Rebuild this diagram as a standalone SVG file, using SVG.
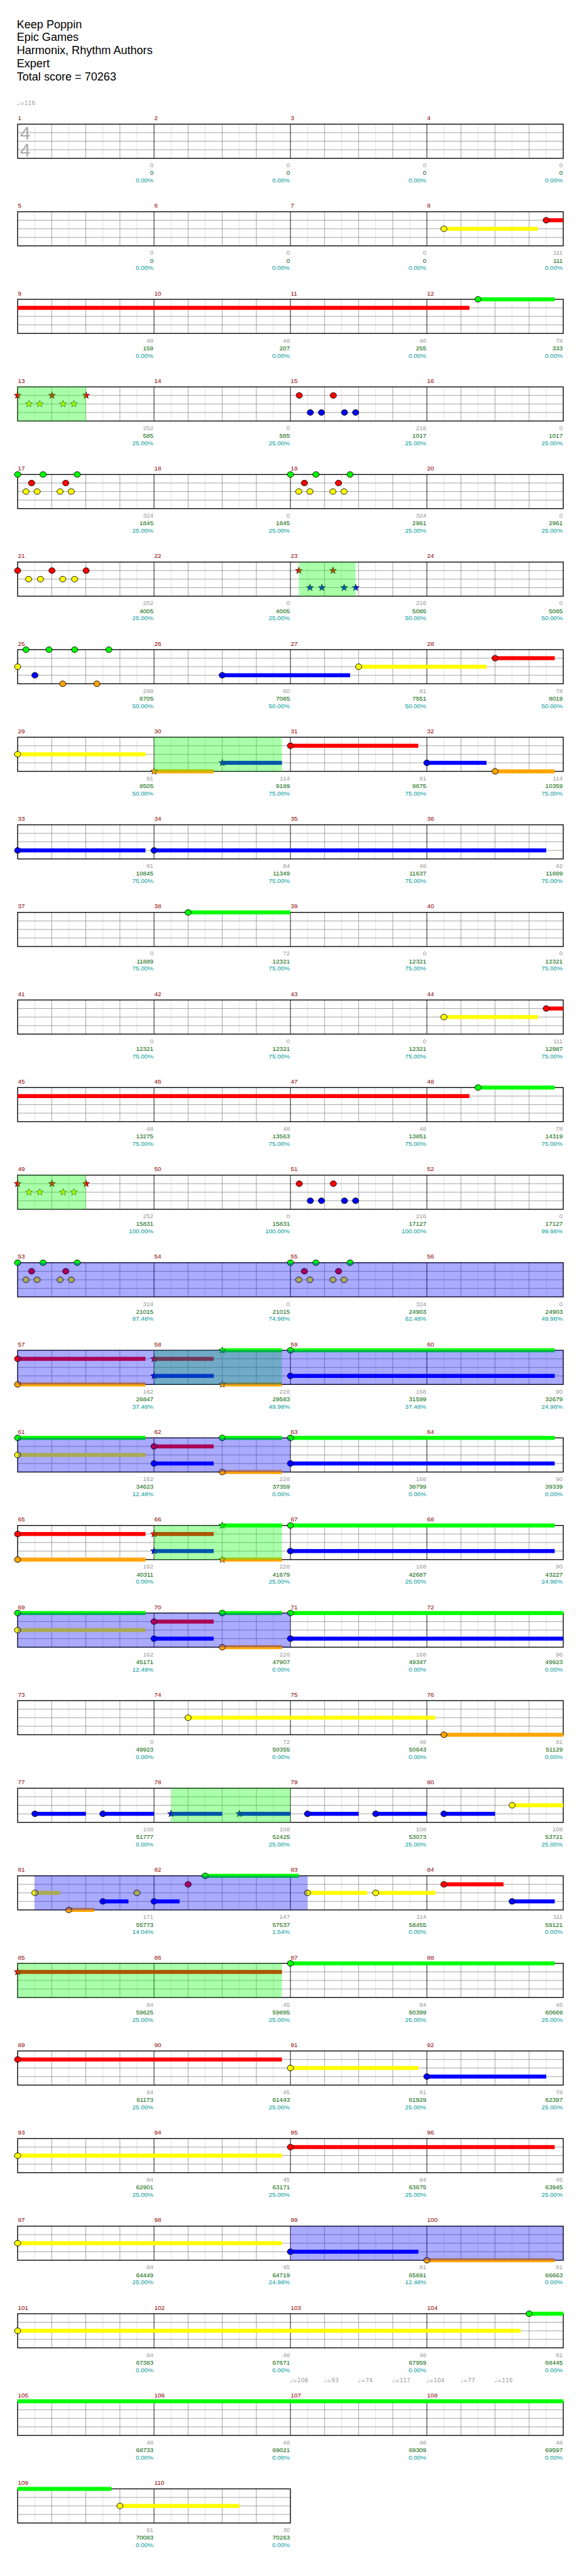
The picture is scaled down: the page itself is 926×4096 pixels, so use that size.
<svg xmlns="http://www.w3.org/2000/svg" width="926" height="4096" viewBox="0 0 926 4096">
<style>
.t{font-family:"Liberation Sans",Arial,sans-serif;font-size:20px;fill:#000}
.mn{font-family:"Liberation Sans",Arial,sans-serif;font-size:11px;fill:#8b0000}
.sc text{font-family:"Liberation Sans",Arial,sans-serif;font-size:11px;text-anchor:end}
.a{fill:#999}.b{fill:#006400}.c{fill:#009999}
.G{fill:#00ff00}.R{fill:#ff0000}.Y{fill:#ffff00}.B{fill:#0000ff}.O{fill:#ffa500}
.sp{fill:#00ff00;fill-opacity:.333}.ac{fill:#0000ff;fill-opacity:.333}
.tp{font-family:"DejaVu Sans",sans-serif;font-size:10px;fill:#999}
.ts{font-family:"Liberation Sans",Arial,sans-serif;font-size:33px;fill:#aaa}
</style>
<defs>
<ellipse id="n" rx="5.5" ry="5" stroke="#000" stroke-width="1"/>
<path id="s" d="M0,-6.5L1.6,-2.2L6.2,-2L2.6,0.8L3.8,5.3L0,2.7L-3.8,5.3L-2.6,0.8L-6.2,-2L-1.6,-2.2Z" stroke="#000" stroke-width="0.6"/>
<g id="g4">
<rect x="31" y="0" width="960" height="60" fill="#fff"/>
<path stroke="#ddd" d="M61 0V60M121 0V60M181 0V60M241 0V60M301 0V60M361 0V60M421 0V60M481 0V60M541 0V60M601 0V60M661 0V60M721 0V60M781 0V60M841 0V60M901 0V60M961 0V60"/>
<path stroke="#999" d="M91 0V60M151 0V60M211 0V60M331 0V60M391 0V60M451 0V60M571 0V60M631 0V60M691 0V60M811 0V60M871 0V60M931 0V60M31 15H991M31 30H991M31 45H991"/>
<path stroke="#000" d="M271 0V60M511 0V60M751 0V60"/>
<rect x="31" y="0" width="960" height="60" fill="none" stroke="#000" stroke-width="1.5"/>
</g>
<g id="g2">
<rect x="31" y="0" width="480" height="60" fill="#fff"/>
<path stroke="#ddd" d="M61 0V60M121 0V60M181 0V60M241 0V60M301 0V60M361 0V60M421 0V60M481 0V60"/>
<path stroke="#999" d="M91 0V60M151 0V60M211 0V60M331 0V60M391 0V60M451 0V60M31 15H511M31 30H511M31 45H511"/>
<path stroke="#000" d="M271 0V60"/>
<rect x="31" y="0" width="480" height="60" fill="none" stroke="#000" stroke-width="1.5"/>
</g>
</defs>
<rect width="926" height="4096" fill="#fff"/>
<g transform="scale(0.904297)">
<g id="title" class="t">
<text x="29.5" y="49.3">Keep Poppin</text>
<text x="29.5" y="72.3">Epic Games</text>
<text x="29.5" y="95.3">Harmonix, Rhythm Authors</text>
<text x="29.5" y="118.3">Expert</text>
<text x="29.5" y="141.3">Total score = 70263</text>
</g>

<g id="row-1" transform="translate(0,218.3)">
<use href="#g4"/>
<text class="ts" x="35" y="27">4</text><text class="ts" x="35" y="57.5">4</text>
<text class="tp" x="30" y="-33.6">♩=116</text>
<text class="mn" x="31.5" y="-7">1</text><text class="mn" x="271.5" y="-7">2</text><text class="mn" x="511.5" y="-7">3</text><text class="mn" x="751.5" y="-7">4</text>
<g class="sc"><text class="a" x="270" y="76">0</text><text class="a" x="510" y="76">0</text><text class="a" x="750" y="76">0</text><text class="a" x="990" y="76">0</text>
<text class="b" x="270" y="89.5">0</text><text class="b" x="510" y="89.5">0</text><text class="b" x="750" y="89.5">0</text><text class="b" x="990" y="89.5">0</text>
<text class="c" x="270" y="102.5">0.00%</text><text class="c" x="510" y="102.5">0.00%</text><text class="c" x="750" y="102.5">0.00%</text><text class="c" x="990" y="102.5">0.00%</text></g>
</g>

<g id="row-2" transform="translate(0,372.3)">
<use href="#g4"/>
<rect class="Y" x="781" y="26.5" width="165" height="7"/><use href="#n" x="781" y="30" class="Y"/>
<rect class="R" x="961" y="11.5" width="30" height="7"/><use href="#n" x="961" y="15" class="R"/>
<text class="mn" x="31.5" y="-7">5</text><text class="mn" x="271.5" y="-7">6</text><text class="mn" x="511.5" y="-7">7</text><text class="mn" x="751.5" y="-7">8</text>
<g class="sc"><text class="a" x="270" y="76">0</text><text class="a" x="510" y="76">0</text><text class="a" x="750" y="76">0</text><text class="a" x="990" y="76">111</text>
<text class="b" x="270" y="89.5">0</text><text class="b" x="510" y="89.5">0</text><text class="b" x="750" y="89.5">0</text><text class="b" x="990" y="89.5">111</text>
<text class="c" x="270" y="102.5">0.00%</text><text class="c" x="510" y="102.5">0.00%</text><text class="c" x="750" y="102.5">0.00%</text><text class="c" x="990" y="102.5">0.00%</text></g>
</g>

<g id="row-3" transform="translate(0,526.3)">
<use href="#g4"/>
<rect class="R" x="31" y="11.5" width="795" height="7"/>
<rect class="G" x="841" y="-3.5" width="135" height="7"/><use href="#n" x="841" y="0" class="G"/>
<text class="mn" x="31.5" y="-7">9</text><text class="mn" x="271.5" y="-7">10</text><text class="mn" x="511.5" y="-7">11</text><text class="mn" x="751.5" y="-7">12</text>
<g class="sc"><text class="a" x="270" y="76">48</text><text class="a" x="510" y="76">48</text><text class="a" x="750" y="76">48</text><text class="a" x="990" y="76">78</text>
<text class="b" x="270" y="89.5">159</text><text class="b" x="510" y="89.5">207</text><text class="b" x="750" y="89.5">255</text><text class="b" x="990" y="89.5">333</text>
<text class="c" x="270" y="102.5">0.00%</text><text class="c" x="510" y="102.5">0.00%</text><text class="c" x="750" y="102.5">0.00%</text><text class="c" x="990" y="102.5">0.00%</text></g>
</g>

<g id="row-4" transform="translate(0,680.3)">
<use href="#g4"/>
<use href="#s" x="31" y="15" class="R"/><use href="#s" x="91.4" y="15" class="R"/><use href="#s" x="151.5" y="15" class="R"/>
<use href="#s" x="50.9" y="30" class="Y"/><use href="#s" x="69.9" y="30" class="Y"/><use href="#s" x="111" y="30" class="Y"/><use href="#s" x="130" y="30" class="Y"/>
<use href="#n" x="526.5" y="15" class="R"/><use href="#n" x="586.5" y="15" class="R"/>
<use href="#n" x="546" y="45" class="B"/><use href="#n" x="565.6" y="45" class="B"/><use href="#n" x="606.1" y="45" class="B"/><use href="#n" x="625.7" y="45" class="B"/>
<rect class="sp" x="31" y="0" width="120.5" height="60"/>
<text class="mn" x="31.5" y="-7">13</text><text class="mn" x="271.5" y="-7">14</text><text class="mn" x="511.5" y="-7">15</text><text class="mn" x="751.5" y="-7">16</text>
<g class="sc"><text class="a" x="270" y="76">252</text><text class="a" x="510" y="76">0</text><text class="a" x="750" y="76">216</text><text class="a" x="990" y="76">0</text>
<text class="b" x="270" y="89.5">585</text><text class="b" x="510" y="89.5">585</text><text class="b" x="750" y="89.5">1017</text><text class="b" x="990" y="89.5">1017</text>
<text class="c" x="270" y="102.5">25.00%</text><text class="c" x="510" y="102.5">25.00%</text><text class="c" x="750" y="102.5">25.00%</text><text class="c" x="990" y="102.5">25.00%</text></g>
</g>

<g id="row-5" transform="translate(0,834.3)">
<use href="#g4"/>
<use href="#n" x="31" y="0" class="G"/><use href="#n" x="75.8" y="0" class="G"/><use href="#n" x="135.9" y="0" class="G"/>
<use href="#n" x="55.5" y="15" class="R"/><use href="#n" x="115.6" y="15" class="R"/>
<use href="#n" x="45.7" y="30" class="Y"/><use href="#n" x="65.3" y="30" class="Y"/><use href="#n" x="105.8" y="30" class="Y"/><use href="#n" x="125.4" y="30" class="Y"/>
<use href="#n" x="511" y="0" class="G"/><use href="#n" x="555.8" y="0" class="G"/><use href="#n" x="615.9" y="0" class="G"/>
<use href="#n" x="535.5" y="15" class="R"/><use href="#n" x="595.6" y="15" class="R"/>
<use href="#n" x="525.7" y="30" class="Y"/><use href="#n" x="545.3" y="30" class="Y"/><use href="#n" x="585.8" y="30" class="Y"/><use href="#n" x="605.4" y="30" class="Y"/>
<text class="mn" x="31.5" y="-7">17</text><text class="mn" x="271.5" y="-7">18</text><text class="mn" x="511.5" y="-7">19</text><text class="mn" x="751.5" y="-7">20</text>
<g class="sc"><text class="a" x="270" y="76">324</text><text class="a" x="510" y="76">0</text><text class="a" x="750" y="76">324</text><text class="a" x="990" y="76">0</text>
<text class="b" x="270" y="89.5">1845</text><text class="b" x="510" y="89.5">1845</text><text class="b" x="750" y="89.5">2961</text><text class="b" x="990" y="89.5">2961</text>
<text class="c" x="270" y="102.5">25.00%</text><text class="c" x="510" y="102.5">25.00%</text><text class="c" x="750" y="102.5">25.00%</text><text class="c" x="990" y="102.5">25.00%</text></g>
</g>

<g id="row-6" transform="translate(0,988.3)">
<use href="#g4"/>
<use href="#n" x="31" y="15" class="R"/><use href="#n" x="91.4" y="15" class="R"/><use href="#n" x="151.5" y="15" class="R"/>
<use href="#n" x="50.3" y="30" class="Y"/><use href="#n" x="71.2" y="30" class="Y"/><use href="#n" x="110.4" y="30" class="Y"/><use href="#n" x="131.3" y="30" class="Y"/>
<use href="#s" x="525.8" y="15" class="R"/><use href="#s" x="585.9" y="15" class="R"/>
<use href="#s" x="545.4" y="45" class="B"/><use href="#s" x="566.3" y="45" class="B"/><use href="#s" x="605.5" y="45" class="B"/><use href="#s" x="625.7" y="45" class="B"/>
<rect class="sp" x="525.8" y="0" width="99.9" height="60"/>
<text class="mn" x="31.5" y="-7">21</text><text class="mn" x="271.5" y="-7">22</text><text class="mn" x="511.5" y="-7">23</text><text class="mn" x="751.5" y="-7">24</text>
<g class="sc"><text class="a" x="270" y="76">252</text><text class="a" x="510" y="76">0</text><text class="a" x="750" y="76">216</text><text class="a" x="990" y="76">0</text>
<text class="b" x="270" y="89.5">4005</text><text class="b" x="510" y="89.5">4005</text><text class="b" x="750" y="89.5">5085</text><text class="b" x="990" y="89.5">5085</text>
<text class="c" x="270" y="102.5">25.00%</text><text class="c" x="510" y="102.5">25.00%</text><text class="c" x="750" y="102.5">50.00%</text><text class="c" x="990" y="102.5">50.00%</text></g>
</g>

<g id="row-7" transform="translate(0,1142.3)">
<use href="#g4"/>
<use href="#n" x="45.7" y="0" class="G"/><use href="#n" x="86.2" y="0" class="G"/><use href="#n" x="131.3" y="0" class="G"/><use href="#n" x="191.4" y="0" class="G"/>
<use href="#n" x="31" y="30" class="Y"/><use href="#n" x="61.4" y="45" class="B"/>
<use href="#n" x="110.4" y="60" class="O"/><use href="#n" x="170.5" y="60" class="O"/>
<rect class="B" x="391" y="41.5" width="225" height="7"/><use href="#n" x="391" y="45" class="B"/>
<rect class="Y" x="631" y="26.5" width="225" height="7"/><use href="#n" x="631" y="30" class="Y"/>
<rect class="R" x="871" y="11.5" width="105" height="7"/><use href="#n" x="871" y="15" class="R"/>
<text class="mn" x="31.5" y="-7">25</text><text class="mn" x="271.5" y="-7">26</text><text class="mn" x="511.5" y="-7">27</text><text class="mn" x="751.5" y="-7">28</text>
<g class="sc"><text class="a" x="270" y="76">288</text><text class="a" x="510" y="76">60</text><text class="a" x="750" y="76">81</text><text class="a" x="990" y="76">78</text>
<text class="b" x="270" y="89.5">6705</text><text class="b" x="510" y="89.5">7065</text><text class="b" x="750" y="89.5">7551</text><text class="b" x="990" y="89.5">8019</text>
<text class="c" x="270" y="102.5">50.00%</text><text class="c" x="510" y="102.5">50.00%</text><text class="c" x="750" y="102.5">50.00%</text><text class="c" x="990" y="102.5">50.00%</text></g>
</g>

<g id="row-8" transform="translate(0,1296.3)">
<use href="#g4"/>
<rect class="Y" x="31" y="26.5" width="225" height="7"/><use href="#n" x="31" y="30" class="Y"/>
<rect class="O" x="271" y="56.5" width="105" height="7"/><use href="#s" x="271" y="60" class="O"/>
<rect class="B" x="391" y="41.5" width="105" height="7"/><use href="#s" x="391" y="45" class="B"/>
<rect class="sp" x="271" y="0" width="225" height="60"/>
<rect class="R" x="511" y="11.5" width="225" height="7"/><use href="#n" x="511" y="15" class="R"/>
<rect class="B" x="751" y="41.5" width="105" height="7"/><use href="#n" x="751" y="45" class="B"/>
<rect class="O" x="871" y="56.5" width="105" height="7"/><use href="#n" x="871" y="60" class="O"/>
<text class="mn" x="31.5" y="-7">29</text><text class="mn" x="271.5" y="-7">30</text><text class="mn" x="511.5" y="-7">31</text><text class="mn" x="751.5" y="-7">32</text>
<g class="sc"><text class="a" x="270" y="76">81</text><text class="a" x="510" y="76">114</text><text class="a" x="750" y="76">81</text><text class="a" x="990" y="76">114</text>
<text class="b" x="270" y="89.5">8505</text><text class="b" x="510" y="89.5">9189</text><text class="b" x="750" y="89.5">9675</text><text class="b" x="990" y="89.5">10359</text>
<text class="c" x="270" y="102.5">50.00%</text><text class="c" x="510" y="102.5">75.00%</text><text class="c" x="750" y="102.5">75.00%</text><text class="c" x="990" y="102.5">75.00%</text></g>
</g>

<g id="row-9" transform="translate(0,1450.3)">
<use href="#g4"/>
<rect class="B" x="31" y="41.5" width="225" height="7"/><use href="#n" x="31" y="45" class="B"/>
<rect class="B" x="271" y="41.5" width="690" height="7"/><use href="#n" x="271" y="45" class="B"/>
<text class="mn" x="31.5" y="-7">33</text><text class="mn" x="271.5" y="-7">34</text><text class="mn" x="511.5" y="-7">35</text><text class="mn" x="751.5" y="-7">36</text>
<g class="sc"><text class="a" x="270" y="76">81</text><text class="a" x="510" y="76">84</text><text class="a" x="750" y="76">48</text><text class="a" x="990" y="76">42</text>
<text class="b" x="270" y="89.5">10845</text><text class="b" x="510" y="89.5">11349</text><text class="b" x="750" y="89.5">11637</text><text class="b" x="990" y="89.5">11889</text>
<text class="c" x="270" y="102.5">75.00%</text><text class="c" x="510" y="102.5">75.00%</text><text class="c" x="750" y="102.5">75.00%</text><text class="c" x="990" y="102.5">75.00%</text></g>
</g>

<g id="row-10" transform="translate(0,1604.3)">
<use href="#g4"/>
<rect class="G" x="331" y="-3.5" width="180" height="7"/><use href="#n" x="331" y="0" class="G"/>
<text class="mn" x="31.5" y="-7">37</text><text class="mn" x="271.5" y="-7">38</text><text class="mn" x="511.5" y="-7">39</text><text class="mn" x="751.5" y="-7">40</text>
<g class="sc"><text class="a" x="270" y="76">0</text><text class="a" x="510" y="76">72</text><text class="a" x="750" y="76">0</text><text class="a" x="990" y="76">0</text>
<text class="b" x="270" y="89.5">11889</text><text class="b" x="510" y="89.5">12321</text><text class="b" x="750" y="89.5">12321</text><text class="b" x="990" y="89.5">12321</text>
<text class="c" x="270" y="102.5">75.00%</text><text class="c" x="510" y="102.5">75.00%</text><text class="c" x="750" y="102.5">75.00%</text><text class="c" x="990" y="102.5">75.00%</text></g>
</g>

<g id="row-11" transform="translate(0,1758.3)">
<use href="#g4"/>
<rect class="Y" x="781" y="26.5" width="165" height="7"/><use href="#n" x="781" y="30" class="Y"/>
<rect class="R" x="961" y="11.5" width="30" height="7"/><use href="#n" x="961" y="15" class="R"/>
<text class="mn" x="31.5" y="-7">41</text><text class="mn" x="271.5" y="-7">42</text><text class="mn" x="511.5" y="-7">43</text><text class="mn" x="751.5" y="-7">44</text>
<g class="sc"><text class="a" x="270" y="76">0</text><text class="a" x="510" y="76">0</text><text class="a" x="750" y="76">0</text><text class="a" x="990" y="76">111</text>
<text class="b" x="270" y="89.5">12321</text><text class="b" x="510" y="89.5">12321</text><text class="b" x="750" y="89.5">12321</text><text class="b" x="990" y="89.5">12987</text>
<text class="c" x="270" y="102.5">75.00%</text><text class="c" x="510" y="102.5">75.00%</text><text class="c" x="750" y="102.5">75.00%</text><text class="c" x="990" y="102.5">75.00%</text></g>
</g>

<g id="row-12" transform="translate(0,1912.3)">
<use href="#g4"/>
<rect class="R" x="31" y="11.5" width="795" height="7"/>
<rect class="G" x="841" y="-3.5" width="135" height="7"/><use href="#n" x="841" y="0" class="G"/>
<text class="mn" x="31.5" y="-7">45</text><text class="mn" x="271.5" y="-7">46</text><text class="mn" x="511.5" y="-7">47</text><text class="mn" x="751.5" y="-7">48</text>
<g class="sc"><text class="a" x="270" y="76">48</text><text class="a" x="510" y="76">48</text><text class="a" x="750" y="76">48</text><text class="a" x="990" y="76">78</text>
<text class="b" x="270" y="89.5">13275</text><text class="b" x="510" y="89.5">13563</text><text class="b" x="750" y="89.5">13851</text><text class="b" x="990" y="89.5">14319</text>
<text class="c" x="270" y="102.5">75.00%</text><text class="c" x="510" y="102.5">75.00%</text><text class="c" x="750" y="102.5">75.00%</text><text class="c" x="990" y="102.5">75.00%</text></g>
</g>

<g id="row-13" transform="translate(0,2066.3)">
<use href="#g4"/>
<use href="#s" x="31" y="15" class="R"/><use href="#s" x="91.4" y="15" class="R"/><use href="#s" x="151.5" y="15" class="R"/>
<use href="#s" x="50.9" y="30" class="Y"/><use href="#s" x="69.9" y="30" class="Y"/><use href="#s" x="111" y="30" class="Y"/><use href="#s" x="130" y="30" class="Y"/>
<use href="#n" x="526.5" y="15" class="R"/><use href="#n" x="586.5" y="15" class="R"/>
<use href="#n" x="546" y="45" class="B"/><use href="#n" x="565.6" y="45" class="B"/><use href="#n" x="606.1" y="45" class="B"/><use href="#n" x="625.7" y="45" class="B"/>
<rect class="sp" x="31" y="0" width="120.5" height="60"/>
<text class="mn" x="31.5" y="-7">49</text><text class="mn" x="271.5" y="-7">50</text><text class="mn" x="511.5" y="-7">51</text><text class="mn" x="751.5" y="-7">52</text>
<g class="sc"><text class="a" x="270" y="76">252</text><text class="a" x="510" y="76">0</text><text class="a" x="750" y="76">216</text><text class="a" x="990" y="76">0</text>
<text class="b" x="270" y="89.5">15831</text><text class="b" x="510" y="89.5">15831</text><text class="b" x="750" y="89.5">17127</text><text class="b" x="990" y="89.5">17127</text>
<text class="c" x="270" y="102.5">100.00%</text><text class="c" x="510" y="102.5">100.00%</text><text class="c" x="750" y="102.5">100.00%</text><text class="c" x="990" y="102.5">99.98%</text></g>
</g>

<g id="row-14" transform="translate(0,2220.3)">
<use href="#g4"/>
<use href="#n" x="31" y="0" class="G"/><use href="#n" x="75.8" y="0" class="G"/><use href="#n" x="135.9" y="0" class="G"/>
<use href="#n" x="55.5" y="15" class="R"/><use href="#n" x="115.6" y="15" class="R"/>
<use href="#n" x="45.7" y="30" class="Y"/><use href="#n" x="65.3" y="30" class="Y"/><use href="#n" x="105.8" y="30" class="Y"/><use href="#n" x="125.4" y="30" class="Y"/>
<use href="#n" x="511" y="0" class="G"/><use href="#n" x="555.8" y="0" class="G"/><use href="#n" x="615.9" y="0" class="G"/>
<use href="#n" x="535.5" y="15" class="R"/><use href="#n" x="595.6" y="15" class="R"/>
<use href="#n" x="525.7" y="30" class="Y"/><use href="#n" x="545.3" y="30" class="Y"/><use href="#n" x="585.8" y="30" class="Y"/><use href="#n" x="605.4" y="30" class="Y"/>
<rect class="ac" x="31" y="0" width="960" height="60"/>
<text class="mn" x="31.5" y="-7">53</text><text class="mn" x="271.5" y="-7">54</text><text class="mn" x="511.5" y="-7">55</text><text class="mn" x="751.5" y="-7">56</text>
<g class="sc"><text class="a" x="270" y="76">324</text><text class="a" x="510" y="76">0</text><text class="a" x="750" y="76">324</text><text class="a" x="990" y="76">0</text>
<text class="b" x="270" y="89.5">21015</text><text class="b" x="510" y="89.5">21015</text><text class="b" x="750" y="89.5">24903</text><text class="b" x="990" y="89.5">24903</text>
<text class="c" x="270" y="102.5">87.48%</text><text class="c" x="510" y="102.5">74.98%</text><text class="c" x="750" y="102.5">62.48%</text><text class="c" x="990" y="102.5">49.98%</text></g>
</g>

<g id="row-15" transform="translate(0,2374.3)">
<use href="#g4"/>
<rect class="R" x="31" y="11.5" width="225" height="7"/><use href="#n" x="31" y="15" class="R"/>
<rect class="O" x="31" y="56.5" width="225" height="7"/><use href="#n" x="31" y="60" class="O"/>
<rect class="R" x="271" y="11.5" width="105" height="7"/><use href="#s" x="271" y="15" class="R"/>
<rect class="B" x="271" y="41.5" width="105" height="7"/><use href="#s" x="271" y="45" class="B"/>
<rect class="G" x="391" y="-3.5" width="105" height="7"/><use href="#s" x="391" y="0" class="G"/>
<rect class="O" x="391" y="56.5" width="105" height="7"/><use href="#s" x="391" y="60" class="O"/>
<rect class="G" x="511" y="-3.5" width="465" height="7"/><use href="#n" x="511" y="0" class="G"/>
<rect class="B" x="511" y="41.5" width="465" height="7"/><use href="#n" x="511" y="45" class="B"/>
<rect class="sp" x="271" y="0" width="225" height="60"/>
<rect class="ac" x="31" y="0" width="960" height="60"/>
<text class="mn" x="31.5" y="-7">57</text><text class="mn" x="271.5" y="-7">58</text><text class="mn" x="511.5" y="-7">59</text><text class="mn" x="751.5" y="-7">60</text>
<g class="sc"><text class="a" x="270" y="76">162</text><text class="a" x="510" y="76">228</text><text class="a" x="750" y="76">168</text><text class="a" x="990" y="76">90</text>
<text class="b" x="270" y="89.5">26847</text><text class="b" x="510" y="89.5">29583</text><text class="b" x="750" y="89.5">31599</text><text class="b" x="990" y="89.5">32679</text>
<text class="c" x="270" y="102.5">37.48%</text><text class="c" x="510" y="102.5">49.98%</text><text class="c" x="750" y="102.5">37.48%</text><text class="c" x="990" y="102.5">24.98%</text></g>
</g>

<g id="row-16" transform="translate(0,2528.3)">
<use href="#g4"/>
<rect class="G" x="31" y="-3.5" width="225" height="7"/><use href="#n" x="31" y="0" class="G"/>
<rect class="Y" x="31" y="26.5" width="225" height="7"/><use href="#n" x="31" y="30" class="Y"/>
<rect class="R" x="271" y="11.5" width="105" height="7"/><use href="#n" x="271" y="15" class="R"/>
<rect class="B" x="271" y="41.5" width="105" height="7"/><use href="#n" x="271" y="45" class="B"/>
<rect class="G" x="391" y="-3.5" width="105" height="7"/><use href="#n" x="391" y="0" class="G"/>
<rect class="O" x="391" y="56.5" width="105" height="7"/><use href="#n" x="391" y="60" class="O"/>
<rect class="G" x="511" y="-3.5" width="465" height="7"/><use href="#n" x="511" y="0" class="G"/>
<rect class="B" x="511" y="41.5" width="465" height="7"/><use href="#n" x="511" y="45" class="B"/>
<rect class="ac" x="31" y="0" width="480" height="60"/>
<text class="mn" x="31.5" y="-7">61</text><text class="mn" x="271.5" y="-7">62</text><text class="mn" x="511.5" y="-7">63</text><text class="mn" x="751.5" y="-7">64</text>
<g class="sc"><text class="a" x="270" y="76">162</text><text class="a" x="510" y="76">228</text><text class="a" x="750" y="76">168</text><text class="a" x="990" y="76">90</text>
<text class="b" x="270" y="89.5">34623</text><text class="b" x="510" y="89.5">37359</text><text class="b" x="750" y="89.5">38799</text><text class="b" x="990" y="89.5">39339</text>
<text class="c" x="270" y="102.5">12.48%</text><text class="c" x="510" y="102.5">0.00%</text><text class="c" x="750" y="102.5">0.00%</text><text class="c" x="990" y="102.5">0.00%</text></g>
</g>

<g id="row-17" transform="translate(0,2682.3)">
<use href="#g4"/>
<rect class="R" x="31" y="11.5" width="225" height="7"/><use href="#n" x="31" y="15" class="R"/>
<rect class="O" x="31" y="56.5" width="225" height="7"/><use href="#n" x="31" y="60" class="O"/>
<rect class="R" x="271" y="11.5" width="105" height="7"/><use href="#s" x="271" y="15" class="R"/>
<rect class="B" x="271" y="41.5" width="105" height="7"/><use href="#s" x="271" y="45" class="B"/>
<rect class="G" x="391" y="-3.5" width="105" height="7"/><use href="#s" x="391" y="0" class="G"/>
<rect class="O" x="391" y="56.5" width="105" height="7"/><use href="#s" x="391" y="60" class="O"/>
<rect class="G" x="511" y="-3.5" width="465" height="7"/><use href="#n" x="511" y="0" class="G"/>
<rect class="B" x="511" y="41.5" width="465" height="7"/><use href="#n" x="511" y="45" class="B"/>
<rect class="sp" x="271" y="0" width="225" height="60"/>
<text class="mn" x="31.5" y="-7">65</text><text class="mn" x="271.5" y="-7">66</text><text class="mn" x="511.5" y="-7">67</text><text class="mn" x="751.5" y="-7">68</text>
<g class="sc"><text class="a" x="270" y="76">162</text><text class="a" x="510" y="76">228</text><text class="a" x="750" y="76">168</text><text class="a" x="990" y="76">90</text>
<text class="b" x="270" y="89.5">40311</text><text class="b" x="510" y="89.5">41679</text><text class="b" x="750" y="89.5">42687</text><text class="b" x="990" y="89.5">43227</text>
<text class="c" x="270" y="102.5">0.00%</text><text class="c" x="510" y="102.5">25.00%</text><text class="c" x="750" y="102.5">25.00%</text><text class="c" x="990" y="102.5">24.98%</text></g>
</g>

<g id="row-18" transform="translate(0,2836.3)">
<use href="#g4"/>
<rect class="G" x="31" y="-3.5" width="225" height="7"/><use href="#n" x="31" y="0" class="G"/>
<rect class="Y" x="31" y="26.5" width="225" height="7"/><use href="#n" x="31" y="30" class="Y"/>
<rect class="R" x="271" y="11.5" width="105" height="7"/><use href="#n" x="271" y="15" class="R"/>
<rect class="B" x="271" y="41.5" width="105" height="7"/><use href="#n" x="271" y="45" class="B"/>
<rect class="G" x="391" y="-3.5" width="105" height="7"/><use href="#n" x="391" y="0" class="G"/>
<rect class="O" x="391" y="56.5" width="105" height="7"/><use href="#n" x="391" y="60" class="O"/>
<rect class="G" x="511" y="-3.5" width="480" height="7"/><use href="#n" x="511" y="0" class="G"/>
<rect class="B" x="511" y="41.5" width="480" height="7"/><use href="#n" x="511" y="45" class="B"/>
<rect class="ac" x="31" y="0" width="480" height="60"/>
<text class="mn" x="31.5" y="-7">69</text><text class="mn" x="271.5" y="-7">70</text><text class="mn" x="511.5" y="-7">71</text><text class="mn" x="751.5" y="-7">72</text>
<g class="sc"><text class="a" x="270" y="76">162</text><text class="a" x="510" y="76">228</text><text class="a" x="750" y="76">168</text><text class="a" x="990" y="76">96</text>
<text class="b" x="270" y="89.5">45171</text><text class="b" x="510" y="89.5">47907</text><text class="b" x="750" y="89.5">49347</text><text class="b" x="990" y="89.5">49923</text>
<text class="c" x="270" y="102.5">12.48%</text><text class="c" x="510" y="102.5">0.00%</text><text class="c" x="750" y="102.5">0.00%</text><text class="c" x="990" y="102.5">0.00%</text></g>
</g>

<g id="row-19" transform="translate(0,2990.3)">
<use href="#g4"/>
<rect class="Y" x="331" y="26.5" width="435" height="7"/><use href="#n" x="331" y="30" class="Y"/>
<rect class="O" x="781" y="56.5" width="210" height="7"/><use href="#n" x="781" y="60" class="O"/>
<text class="mn" x="31.5" y="-7">73</text><text class="mn" x="271.5" y="-7">74</text><text class="mn" x="511.5" y="-7">75</text><text class="mn" x="751.5" y="-7">76</text>
<g class="sc"><text class="a" x="270" y="76">0</text><text class="a" x="510" y="76">72</text><text class="a" x="750" y="76">48</text><text class="a" x="990" y="76">81</text>
<text class="b" x="270" y="89.5">49923</text><text class="b" x="510" y="89.5">50355</text><text class="b" x="750" y="89.5">50643</text><text class="b" x="990" y="89.5">51129</text>
<text class="c" x="270" y="102.5">0.00%</text><text class="c" x="510" y="102.5">0.00%</text><text class="c" x="750" y="102.5">0.00%</text><text class="c" x="990" y="102.5">0.00%</text></g>
</g>

<g id="row-20" transform="translate(0,3144.3)">
<use href="#g4"/>
<rect class="B" x="61.4" y="41.5" width="89.6" height="7"/><use href="#n" x="61.4" y="45" class="B"/>
<rect class="B" x="181" y="41.5" width="90" height="7"/><use href="#n" x="181" y="45" class="B"/>
<rect class="B" x="301" y="41.5" width="90" height="7"/><use href="#s" x="301" y="45" class="B"/>
<rect class="B" x="421" y="41.5" width="90" height="7"/><use href="#s" x="421" y="45" class="B"/>
<rect class="B" x="541" y="41.5" width="90" height="7"/><use href="#n" x="541" y="45" class="B"/>
<rect class="B" x="661" y="41.5" width="90" height="7"/><use href="#n" x="661" y="45" class="B"/>
<rect class="B" x="781" y="41.5" width="90" height="7"/><use href="#n" x="781" y="45" class="B"/>
<rect class="Y" x="901" y="26.5" width="90" height="7"/><use href="#n" x="901" y="30" class="Y"/>
<rect class="sp" x="301" y="0" width="210" height="60"/>
<text class="mn" x="31.5" y="-7">77</text><text class="mn" x="271.5" y="-7">78</text><text class="mn" x="511.5" y="-7">79</text><text class="mn" x="751.5" y="-7">80</text>
<g class="sc"><text class="a" x="270" y="76">108</text><text class="a" x="510" y="76">108</text><text class="a" x="750" y="76">108</text><text class="a" x="990" y="76">108</text>
<text class="b" x="270" y="89.5">51777</text><text class="b" x="510" y="89.5">52425</text><text class="b" x="750" y="89.5">53073</text><text class="b" x="990" y="89.5">53721</text>
<text class="c" x="270" y="102.5">0.00%</text><text class="c" x="510" y="102.5">25.00%</text><text class="c" x="750" y="102.5">25.00%</text><text class="c" x="990" y="102.5">25.00%</text></g>
</g>

<g id="row-21" transform="translate(0,3298.3)">
<use href="#g4"/>
<rect class="Y" x="61.4" y="26.5" width="44.6" height="7"/><use href="#n" x="61.4" y="30" class="Y"/>
<rect class="O" x="121" y="56.5" width="45" height="7"/><use href="#n" x="121" y="60" class="O"/>
<rect class="B" x="181" y="41.5" width="45" height="7"/><use href="#n" x="181" y="45" class="B"/>
<use href="#n" x="241" y="30" class="Y"/>
<rect class="B" x="271" y="41.5" width="45" height="7"/><use href="#n" x="271" y="45" class="B"/>
<use href="#n" x="331" y="15" class="R"/>
<rect class="G" x="361" y="-3.5" width="165" height="7"/><use href="#n" x="361" y="0" class="G"/>
<rect class="Y" x="541" y="26.5" width="105" height="7"/><use href="#n" x="541" y="30" class="Y"/>
<rect class="Y" x="661" y="26.5" width="105" height="7"/><use href="#n" x="661" y="30" class="Y"/>
<rect class="R" x="781" y="11.5" width="105" height="7"/><use href="#n" x="781" y="15" class="R"/>
<rect class="B" x="901" y="41.5" width="75" height="7"/><use href="#n" x="901" y="45" class="B"/>
<rect class="ac" x="61" y="0" width="480" height="60"/>
<text class="mn" x="31.5" y="-7">81</text><text class="mn" x="271.5" y="-7">82</text><text class="mn" x="511.5" y="-7">83</text><text class="mn" x="751.5" y="-7">84</text>
<g class="sc"><text class="a" x="270" y="76">171</text><text class="a" x="510" y="76">147</text><text class="a" x="750" y="76">114</text><text class="a" x="990" y="76">111</text>
<text class="b" x="270" y="89.5">55773</text><text class="b" x="510" y="89.5">57537</text><text class="b" x="750" y="89.5">58455</text><text class="b" x="990" y="89.5">59121</text>
<text class="c" x="270" y="102.5">14.04%</text><text class="c" x="510" y="102.5">1.54%</text><text class="c" x="750" y="102.5">0.00%</text><text class="c" x="990" y="102.5">0.00%</text></g>
</g>

<g id="row-22" transform="translate(0,3452.3)">
<use href="#g4"/>
<rect class="R" x="31" y="11.5" width="465" height="7"/><use href="#s" x="31" y="15" class="R"/>
<rect class="sp" x="31" y="0" width="465" height="60"/>
<rect class="G" x="511" y="-3.5" width="465" height="7"/><use href="#n" x="511" y="0" class="G"/>
<text class="mn" x="31.5" y="-7">85</text><text class="mn" x="271.5" y="-7">86</text><text class="mn" x="511.5" y="-7">87</text><text class="mn" x="751.5" y="-7">88</text>
<g class="sc"><text class="a" x="270" y="76">84</text><text class="a" x="510" y="76">45</text><text class="a" x="750" y="76">84</text><text class="a" x="990" y="76">45</text>
<text class="b" x="270" y="89.5">59625</text><text class="b" x="510" y="89.5">59895</text><text class="b" x="750" y="89.5">60399</text><text class="b" x="990" y="89.5">60669</text>
<text class="c" x="270" y="102.5">25.00%</text><text class="c" x="510" y="102.5">25.00%</text><text class="c" x="750" y="102.5">25.00%</text><text class="c" x="990" y="102.5">25.00%</text></g>
</g>

<g id="row-23" transform="translate(0,3606.3)">
<use href="#g4"/>
<rect class="R" x="31" y="11.5" width="465" height="7"/><use href="#n" x="31" y="15" class="R"/>
<rect class="Y" x="511" y="26.5" width="225" height="7"/><use href="#n" x="511" y="30" class="Y"/>
<rect class="B" x="751" y="41.5" width="210" height="7"/><use href="#n" x="751" y="45" class="B"/>
<text class="mn" x="31.5" y="-7">89</text><text class="mn" x="271.5" y="-7">90</text><text class="mn" x="511.5" y="-7">91</text><text class="mn" x="751.5" y="-7">92</text>
<g class="sc"><text class="a" x="270" y="76">84</text><text class="a" x="510" y="76">45</text><text class="a" x="750" y="76">81</text><text class="a" x="990" y="76">78</text>
<text class="b" x="270" y="89.5">61173</text><text class="b" x="510" y="89.5">61443</text><text class="b" x="750" y="89.5">61929</text><text class="b" x="990" y="89.5">62397</text>
<text class="c" x="270" y="102.5">25.00%</text><text class="c" x="510" y="102.5">25.00%</text><text class="c" x="750" y="102.5">25.00%</text><text class="c" x="990" y="102.5">25.00%</text></g>
</g>

<g id="row-24" transform="translate(0,3760.3)">
<use href="#g4"/>
<rect class="Y" x="31" y="26.5" width="465" height="7"/><use href="#n" x="31" y="30" class="Y"/>
<rect class="R" x="511" y="11.5" width="465" height="7"/><use href="#n" x="511" y="15" class="R"/>
<text class="mn" x="31.5" y="-7">93</text><text class="mn" x="271.5" y="-7">94</text><text class="mn" x="511.5" y="-7">95</text><text class="mn" x="751.5" y="-7">96</text>
<g class="sc"><text class="a" x="270" y="76">84</text><text class="a" x="510" y="76">45</text><text class="a" x="750" y="76">84</text><text class="a" x="990" y="76">45</text>
<text class="b" x="270" y="89.5">62901</text><text class="b" x="510" y="89.5">63171</text><text class="b" x="750" y="89.5">63675</text><text class="b" x="990" y="89.5">63945</text>
<text class="c" x="270" y="102.5">25.00%</text><text class="c" x="510" y="102.5">25.00%</text><text class="c" x="750" y="102.5">25.00%</text><text class="c" x="990" y="102.5">25.00%</text></g>
</g>

<g id="row-25" transform="translate(0,3914.3)">
<use href="#g4"/>
<rect class="Y" x="31" y="26.5" width="465" height="7"/><use href="#n" x="31" y="30" class="Y"/>
<rect class="B" x="511" y="41.5" width="225" height="7"/><use href="#n" x="511" y="45" class="B"/>
<rect class="O" x="751" y="56.5" width="225" height="7"/><use href="#n" x="751" y="60" class="O"/>
<rect class="ac" x="511" y="0" width="480" height="60"/>
<text class="mn" x="31.5" y="-7">97</text><text class="mn" x="271.5" y="-7">98</text><text class="mn" x="511.5" y="-7">99</text><text class="mn" x="751.5" y="-7">100</text>
<g class="sc"><text class="a" x="270" y="76">84</text><text class="a" x="510" y="76">45</text><text class="a" x="750" y="76">81</text><text class="a" x="990" y="76">81</text>
<text class="b" x="270" y="89.5">64449</text><text class="b" x="510" y="89.5">64719</text><text class="b" x="750" y="89.5">65691</text><text class="b" x="990" y="89.5">66663</text>
<text class="c" x="270" y="102.5">25.00%</text><text class="c" x="510" y="102.5">24.98%</text><text class="c" x="750" y="102.5">12.48%</text><text class="c" x="990" y="102.5">0.00%</text></g>
</g>

<g id="row-26" transform="translate(0,4068.3)">
<use href="#g4"/>
<rect class="Y" x="31" y="26.5" width="885" height="7"/><use href="#n" x="31" y="30" class="Y"/>
<rect class="G" x="931" y="-3.5" width="60" height="7"/><use href="#n" x="931" y="0" class="G"/>
<text class="mn" x="31.5" y="-7">101</text><text class="mn" x="271.5" y="-7">102</text><text class="mn" x="511.5" y="-7">103</text><text class="mn" x="751.5" y="-7">104</text>
<g class="sc"><text class="a" x="270" y="76">84</text><text class="a" x="510" y="76">48</text><text class="a" x="750" y="76">48</text><text class="a" x="990" y="76">81</text>
<text class="b" x="270" y="89.5">67383</text><text class="b" x="510" y="89.5">67671</text><text class="b" x="750" y="89.5">67959</text><text class="b" x="990" y="89.5">68445</text>
<text class="c" x="270" y="102.5">0.00%</text><text class="c" x="510" y="102.5">0.00%</text><text class="c" x="750" y="102.5">0.00%</text><text class="c" x="990" y="102.5">0.00%</text></g>
</g>

<g id="row-27" transform="translate(0,4222.3)">
<use href="#g4"/>
<rect class="G" x="31" y="-3.5" width="960" height="7"/>
<g id="tempo">
<text class="tp" x="510" y="-33.6">♩=108</text><text class="tp" x="570" y="-33.6">♩=93</text><text class="tp" x="630" y="-33.6">♩=74</text><text class="tp" x="690" y="-33.6">♩=117</text><text class="tp" x="750" y="-33.6">♩=104</text><text class="tp" x="810" y="-33.6">♩=77</text><text class="tp" x="870" y="-33.6">♩=116</text>
</g>
<text class="mn" x="31.5" y="-7">105</text><text class="mn" x="271.5" y="-7">106</text><text class="mn" x="511.5" y="-7">107</text><text class="mn" x="751.5" y="-7">108</text>
<g class="sc"><text class="a" x="270" y="76">48</text><text class="a" x="510" y="76">48</text><text class="a" x="750" y="76">48</text><text class="a" x="990" y="76">48</text>
<text class="b" x="270" y="89.5">68733</text><text class="b" x="510" y="89.5">69021</text><text class="b" x="750" y="89.5">69309</text><text class="b" x="990" y="89.5">69597</text>
<text class="c" x="270" y="102.5">0.00%</text><text class="c" x="510" y="102.5">0.00%</text><text class="c" x="750" y="102.5">0.00%</text><text class="c" x="990" y="102.5">0.00%</text></g>
</g>

<g id="row-28" transform="translate(0,4376.3)">
<use href="#g2"/>
<rect class="G" x="31" y="-3.5" width="165" height="7"/>
<rect class="Y" x="211" y="26.5" width="210" height="7"/><use href="#n" x="211" y="30" class="Y"/>
<text class="mn" x="31.5" y="-7">109</text><text class="mn" x="271.5" y="-7">110</text>
<g class="sc"><text class="a" x="270" y="76">81</text><text class="a" x="510" y="76">30</text>
<text class="b" x="270" y="89.5">70083</text><text class="b" x="510" y="89.5">70263</text>
<text class="c" x="270" y="102.5">0.00%</text><text class="c" x="510" y="102.5">0.00%</text></g>
</g>
</g>
</svg>
